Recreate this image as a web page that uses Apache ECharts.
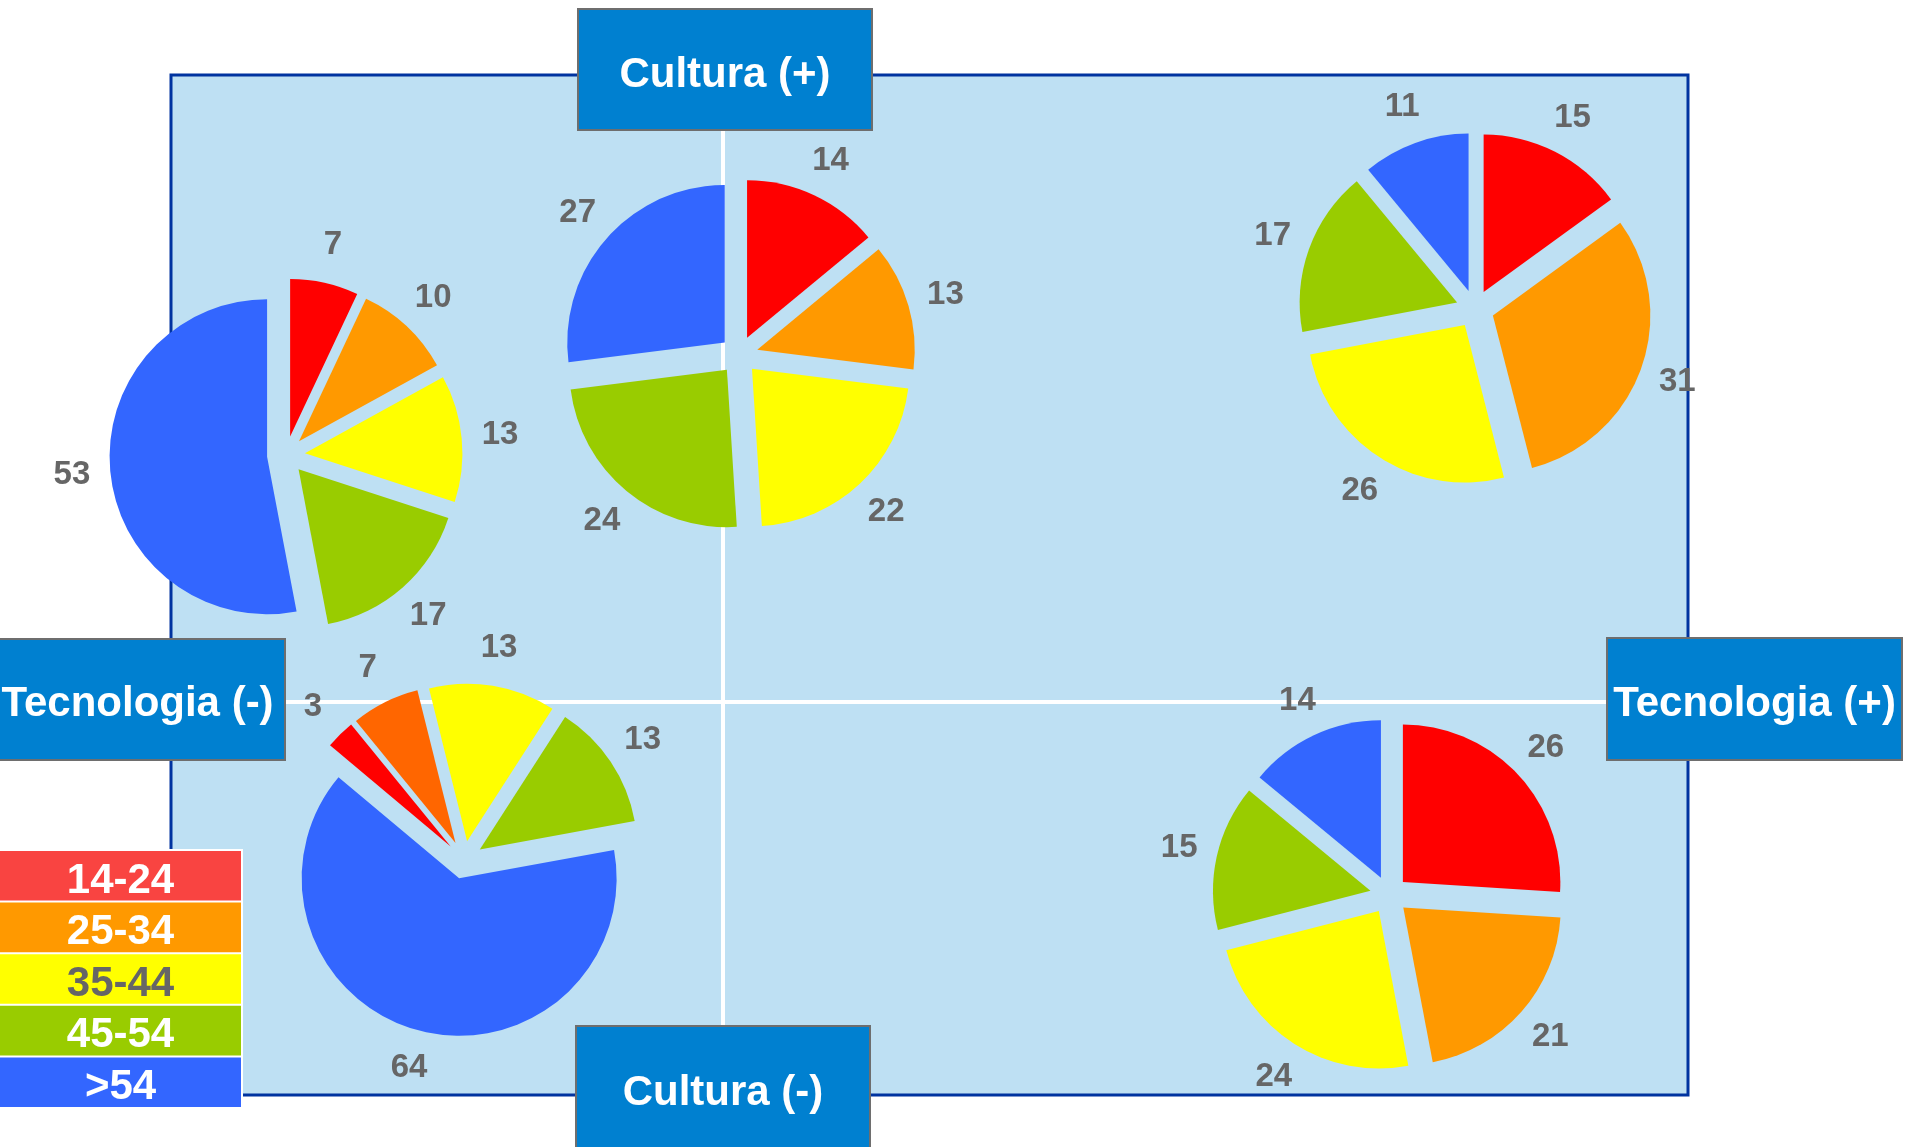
<!DOCTYPE html>
<html>
<head>
<meta charset="utf-8">
<script src="https://cdn.jsdelivr.net/npm/echarts@6/dist/echarts.min.js"></script>
<style>
html,body{margin:0;padding:0;background:#ffffff;}
#chart{width:1905px;height:1147px;}
</style>
</head>
<body>
<div id="chart"></div>
<script>
// ---------- DATA ----------
const ageGroups = ['14-24', '25-34', '35-44', '45-54', '>54'];
const pieTopLeft = [7, 10, 13, 17, 53];
const pieTopCenter = [14, 13, 22, 24, 27];
const pieTopRight = [15, 31, 26, 17, 11];
const pieBottomLeft = [3, 7, 13, 13, 64];
const pieBottomRight = [26, 21, 24, 15, 14];
const axisNames = ['Cultura (+)', 'Cultura (-)', 'Tecnologia (-)', 'Tecnologia (+)'];

// ---------- STYLE ----------
const FONT = '"Liberation Sans", Arial, sans-serif';
const sliceColors = ['#FF0000', '#FF9900', '#FFFF00', '#99CC00', '#3366FF'];
const sliceColorsAlt = ['#FF0000', '#FF6600', '#FFFF00', '#99CC00', '#3366FF'];
const legendColors = ['#F94441', '#FF9900', '#FFFF00', '#99CC00', '#3366FF'];
const legendTextColors = ['#FFFFFF', '#FFFFFF', '#666666', '#FFFFFF', '#FFFFFF'];
const R = 157.5;
const EXPLODE = 19;

const pies = [
  { values: pieTopLeft, center: [286, 455], start: 90, colors: sliceColors },
  { values: pieTopCenter, center: [739, 355], start: 90, colors: sliceColors },
  { values: pieTopRight, center: [1475, 309], start: 90, colors: sliceColors },
  { values: pieBottomLeft, center: [464, 860], start: 140, colors: sliceColorsAlt },
  { values: pieBottomRight, center: [1389, 895], start: 90, colors: sliceColors }
];

const series = [];
pies.forEach(function (p) {
  const items = p.values.map(function (v, i) {
    return { name: ageGroups[i], value: v, selected: true, itemStyle: { color: p.colors[i] } };
  });
  series.push({
    type: 'pie', center: p.center, radius: [0, R], startAngle: p.start, clockwise: true,
    selectedMode: 'multiple', selectedOffset: EXPLODE, silent: true, avoidLabelOverlap: false,
    label: { show: false }, labelLine: { show: false },
    emphasis: { disabled: true },
    select: { itemStyle: { borderWidth: 0 } },
    itemStyle: { borderWidth: 0 },
    data: items, z: 2
  });
  // transparent label ring: same angles, labels centred on each slice bisector
  const labelItems = p.values.map(function (v, i) {
    return { name: ageGroups[i], value: v };
  });
  series.push({
    type: 'pie', center: p.center, radius: [190, 234], startAngle: p.start, clockwise: true,
    selectedMode: false, silent: true, avoidLabelOverlap: false,
    itemStyle: { color: 'rgba(0,0,0,0)', borderWidth: 0 },
    emphasis: { disabled: true },
    label: {
      show: true, position: 'inside', formatter: '{v|{c}}', rotate: 0,
      color: '#666666', fontSize: 33, fontWeight: 'bold', fontFamily: FONT,
      textBorderWidth: 0,
      rich: { v: { color: '#666666', fontSize: 33, fontWeight: 'bold', fontFamily: FONT, textBorderWidth: 0 } }
    },
    labelLine: { show: false },
    data: labelItems, z: 3
  });
});

// ---------- GRAPHICS (frame, quadrant lines, axis boxes, legend) ----------
const graphics = [];
graphics.push({ type: 'rect', z: 0, shape: { x: 171, y: 75, width: 1517, height: 1020 },
  style: { fill: '#BEE0F3', stroke: '#0033A0', lineWidth: 3 } });
graphics.push({ type: 'line', z: 1, shape: { x1: 723, y1: 77, x2: 723, y2: 1093 },
  style: { stroke: '#FFFFFF', lineWidth: 4 } });
graphics.push({ type: 'line', z: 1, shape: { x1: 173, y1: 702, x2: 1686, y2: 702 },
  style: { stroke: '#FFFFFF', lineWidth: 4 } });

const boxes = [
  { x: 578, y: 9, w: 294, h: 121, ty: 75 },
  { x: 576, y: 1026, w: 294, h: 124, ty: 1093 },
  { x: -10, y: 639, w: 295, h: 121, ty: 704 },
  { x: 1607, y: 638, w: 295, h: 122, ty: 704 }
];
boxes.forEach(function (b, i) {
  graphics.push({ type: 'rect', z: 20, shape: { x: b.x, y: b.y, width: b.w, height: b.h },
    style: { fill: '#0080D0', stroke: '#6E6E6E', lineWidth: 2 } });
  graphics.push({ type: 'text', z: 21, x: b.x + b.w / 2, y: b.ty,
    style: { text: axisNames[i], fill: '#FFFFFF', font: 'bold 42px ' + FONT,
      textAlign: 'center', textVerticalAlign: 'middle', align: 'center', verticalAlign: 'middle' } });
});

graphics.push({ type: 'rect', z: 20, shape: { x: 0, y: 849, width: 243, height: 260 },
  style: { fill: '#FFFFFF' } });
ageGroups.forEach(function (g, i) {
  const y = 851 + i * 51.6;
  graphics.push({ type: 'rect', z: 21, shape: { x: 0, y: y, width: 241, height: 49.6 },
    style: { fill: legendColors[i] } });
  graphics.push({ type: 'text', z: 22, x: 120.5, y: y + 30,
    style: { text: g, fill: legendTextColors[i], font: 'bold 42px ' + FONT,
      textAlign: 'center', textVerticalAlign: 'middle', align: 'center', verticalAlign: 'middle' } });
});

const chart = echarts.init(document.getElementById('chart'), null, { renderer: 'canvas' });
chart.setOption({
  animation: false,
  backgroundColor: '#FFFFFF',
  graphic: graphics,
  series: series
});
</script>
</body>
</html>
